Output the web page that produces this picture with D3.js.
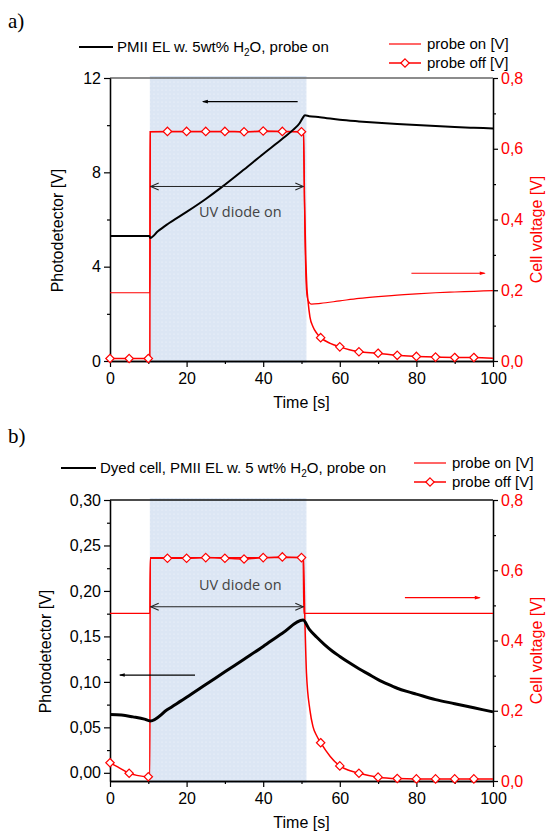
<!DOCTYPE html>
<html>
<head>
<meta charset="utf-8">
<script src="https://cdn.jsdelivr.net/npm/d3@7"></script>
<style>
body { margin: 0; background: #fff; }
</style>
</head>
<body>
<div id="viz"></div>
<script>
var svg_width = 547;
var svg_height = 832;

// shared axis ticks
var timeTicks = [0, 20, 40, 60, 80, 100];
var timeMinor = [10, 30, 50, 70, 90];
var cellTicks = [0, 0.2, 0.4, 0.6, 0.8];
var cellMinor = [0.1, 0.3, 0.5, 0.7];
var uvOn = [10.4, 51.3];   // shaded region, seconds

// ---- panel a) ----
var aPhotoTicks = [0, 4, 8, 12];
var aPhotoMinor = [2, 6, 10];
var aPhotoTime = [0, 10.3, 10.5, 12.5, 15, 20, 25, 29, 35, 40, 45, 47.8, 49.5, 50.3, 50.9, 52, 54.8, 60, 65, 70, 75, 80, 85, 90, 95, 100];
var aPhotoVal  = [5.3, 5.3, 5.22, 5.5, 5.8, 6.32, 6.87, 7.35, 8.12, 8.78, 9.42, 9.8, 10.08, 10.3, 10.42, 10.38, 10.34, 10.23, 10.16, 10.1, 10.05, 10.01, 9.96, 9.92, 9.89, 9.86];
var aOnTime = [0, 10.4, 10.5, 50, 50.5, 50.9, 51.3, 51.7, 52.6, 55, 60, 65, 70, 75, 80, 85, 90, 95, 100];
var aOnVal  = [0.193, 0.193, 0.648, 0.648, 0.645, 0.35, 0.2, 0.172, 0.161, 0.163, 0.17, 0.177, 0.182, 0.186, 0.19, 0.193, 0.195, 0.197, 0.199];
var aOffTime = [0, 5, 10, 10.4, 10.5, 15, 20, 25, 30, 35, 40, 45, 50, 50.5, 50.8, 51.1, 51.4, 51.7, 52.2, 53, 54, 55, 57.5, 60, 62.5, 65, 70, 75, 80, 85, 90, 95, 100];
var aOffVal  = [0.007, 0.007, 0.007, 0.007, 0.648, 0.649, 0.649, 0.649, 0.649, 0.648, 0.65, 0.649, 0.648, 0.645, 0.45, 0.3, 0.21, 0.17, 0.125, 0.097, 0.078, 0.066, 0.05, 0.04, 0.032, 0.026, 0.022, 0.016, 0.013, 0.011, 0.01, 0.01, 0.008];

// ---- panel b) ----
var bPhotoTicks = [0, 0.05, 0.10, 0.15, 0.20, 0.25, 0.30];
var bPhotoMinor = [0.025, 0.075, 0.125, 0.175, 0.225, 0.275];
var bPhotoTime = [0, 3, 6, 9, 10.5, 15, 20, 25, 30, 35, 40, 45, 50.4, 52, 54, 56, 58, 60, 62.5, 65, 67.5, 70, 72.5, 75, 77.5, 80, 85, 90, 95, 100];
var bPhotoVal  = [0.064, 0.0635, 0.0615, 0.059, 0.057, 0.0695, 0.083, 0.097, 0.111, 0.125, 0.139, 0.1535, 0.168, 0.158, 0.149, 0.141, 0.134, 0.128, 0.121, 0.1145, 0.1085, 0.1025, 0.0975, 0.093, 0.0895, 0.0865, 0.0805, 0.076, 0.0715, 0.067];
var bOnTime = [0, 10.4, 10.5, 50.4, 50.6, 100];
var bOnVal  = [0.477, 0.477, 0.636, 0.636, 0.477, 0.477];
var bOffTime = [0, 2, 5, 7, 10, 10.4, 10.5, 15, 20, 25, 30, 35, 40, 45, 50, 50.5, 50.9, 51.3, 52.2, 53, 54, 55, 57.5, 60, 62.5, 65, 70, 75, 80, 85, 90, 95, 100];
var bOffVal  = [0.052, 0.04, 0.022, 0.016, 0.012, 0.012, 0.634, 0.634, 0.634, 0.636, 0.634, 0.632, 0.636, 0.638, 0.636, 0.634, 0.449, 0.307, 0.202, 0.155, 0.128, 0.109, 0.07, 0.043, 0.03, 0.022, 0.011, 0.007, 0.006, 0.006, 0.006, 0.006, 0.006];

var FONT = "'Liberation Sans', Arial, sans-serif";
var RED = "#ff0000";

var svg = d3.select('#viz')
  .append('svg')
  .attr('width', svg_width)
  .attr('height', svg_height)
  .style('background', '#fff');

// dotted light blue fill for the UV region
var defs = svg.append('defs');
var pat = defs.append('pattern')
  .attr('id', 'uvfill')
  .attr('width', 4).attr('height', 4)
  .attr('patternUnits', 'userSpaceOnUse');
pat.append('rect').attr('width', 4).attr('height', 4).attr('fill', '#dce6f4');
pat.append('circle').attr('cx', 2).attr('cy', 2).attr('r', 0.6).attr('fill', '#f4f7fc');

function headMarker(id, color, open) {
  var m = defs.append('marker')
    .attr('id', id)
    .attr('viewBox', '0 -5 10 10')
    .attr('refX', open ? 9 : 8)
    .attr('refY', 0)
    .attr('markerUnits', 'userSpaceOnUse')
    .attr('markerWidth', open ? 9 : 10)
    .attr('markerHeight', open ? 9 : 6)
    .attr('orient', 'auto-start-reverse');
  if (open) {
    m.append('path').attr('d', 'M0,-4L9,0L0,4').attr('fill', 'none')
      .attr('stroke', color).attr('stroke-width', 1.2);
  } else {
    m.append('path').attr('d', 'M0,-3L10,0L0,3Z').attr('fill', color);
  }
}
headMarker('headBlack', '#000', false);
headMarker('headRed', RED, false);
headMarker('headOpen', '#222', true);

function zip(t, v) {
  return t.map(function(d, i) { return [d, v[i]]; });
}

function drawPanel(p) {
  var left = 110, right = 493;
  var g = svg.append('g');
  var x = d3.scaleLinear().domain([0, 100]).range([left, right]);
  var yL = d3.scaleLinear().domain(p.leftDomain).range([p.bottom, p.top]);
  var yR = d3.scaleLinear().domain([0, 0.8]).range([p.bottom, p.top]);

  // UV shading
  g.append('rect')
    .attr('x', x(uvOn[0]))
    .attr('y', p.top - 2)
    .attr('width', x(uvOn[1]) - x(uvOn[0]))
    .attr('height', p.bottom - p.top + 4)
    .attr('fill', 'url(#uvfill)');

  // top frame
  g.append('line')
    .attr('x1', left).attr('x2', right)
    .attr('y1', p.top).attr('y2', p.top)
    .attr('stroke', p.frameColor).attr('stroke-width', 1.5);

  // axes
  function styleAxis(sel, color) {
    sel.selectAll('path').attr('stroke', '#000').attr('stroke-width', 1.3);
    sel.selectAll('line').attr('stroke', '#000').attr('stroke-width', 1.2);
    sel.selectAll('text').attr('font-family', FONT).attr('font-size', '16px').attr('fill', color);
  }
  var comma = function(f) { return function(d) { return d3.format(f)(d).replace('.', ','); }; };

  g.append('g').attr('transform', 'translate(' + left + ',0)')
    .call(d3.axisLeft(yL).tickValues(p.minor).tickSize(3).tickFormat('').tickSizeOuter(0))
    .call(styleAxis, '#000');
  g.append('g').attr('transform', 'translate(' + left + ',0)')
    .call(d3.axisLeft(yL).tickValues(p.ticks).tickSize(6).tickPadding(3).tickSizeOuter(0).tickFormat(p.fmt))
    .call(styleAxis, '#000');

  g.append('g').attr('transform', 'translate(0,' + p.bottom + ')')
    .call(d3.axisBottom(x).tickValues(timeMinor).tickSize(3).tickFormat('').tickSizeOuter(0))
    .call(styleAxis, '#000');
  g.append('g').attr('transform', 'translate(0,' + p.bottom + ')')
    .call(d3.axisBottom(x).tickValues(timeTicks).tickSize(6).tickPadding(6).tickSizeOuter(0))
    .call(styleAxis, '#000');

  g.append('g').attr('transform', 'translate(' + right + ',0)')
    .call(d3.axisRight(yR).tickValues(cellMinor).tickSize(3).tickFormat('').tickSizeOuter(0))
    .call(styleAxis, RED);
  g.append('g').attr('transform', 'translate(' + right + ',0)')
    .call(d3.axisRight(yR).tickValues(cellTicks).tickSize(5).tickPadding(3).tickSizeOuter(0).tickFormat(comma('.1f')))
    .call(styleAxis, RED);

  // axis titles
  g.append('text')
    .attr('transform', 'translate(' + p.titleX + ',' + ((p.top + p.bottom) / 2 + 11) + ') rotate(-90)')
    .attr('text-anchor', 'middle')
    .attr('font-family', FONT).attr('font-size', '16px')
    .text('Photodetector [V]');
  g.append('text')
    .attr('transform', 'translate(542,' + ((p.top + p.bottom) / 2 + 10) + ') rotate(-90)')
    .attr('text-anchor', 'middle')
    .attr('font-family', FONT).attr('font-size', '16px').attr('fill', RED)
    .text('Cell voltage [V]');
  g.append('text')
    .attr('x', (left + right) / 2).attr('y', p.bottom + 47)
    .attr('text-anchor', 'middle')
    .attr('font-family', FONT).attr('font-size', '16px')
    .text('Time [s]');

  // data lines
  var lineL = d3.line().curve(d3.curveMonotoneX).x(function(d) { return x(d[0]); }).y(function(d) { return yL(d[1]); });
  var lineR = d3.line().curve(d3.curveMonotoneX).x(function(d) { return x(d[0]); }).y(function(d) { return yR(d[1]); });

  g.append('path').datum(zip(p.onT, p.onV))
    .attr('d', lineR).attr('fill', 'none').attr('stroke', RED).attr('stroke-width', 1.2);
  var off = zip(p.offT, p.offV);
  g.append('path').datum(off)
    .attr('d', lineR).attr('fill', 'none').attr('stroke', RED).attr('stroke-width', 1.5);
  g.selectAll('path.mk')
    .data(off.filter(function(d) { return d[0] % 5 === 0 && d[0] < 100; }))
    .enter()
    .append('path')
    .attr('class', 'mk')
    .attr('d', 'M0,-4.2L4.2,0L0,4.2L-4.2,0Z')
    .attr('transform', function(d) { return 'translate(' + x(d[0]) + ',' + yR(d[1]) + ')'; })
    .attr('fill', '#fff').attr('stroke', RED).attr('stroke-width', 1.2);
  g.append('path').datum(zip(p.photoT, p.photoV))
    .attr('d', lineL).attr('fill', 'none').attr('stroke', '#000')
    .attr('stroke-width', p.photoWidth).attr('stroke-linejoin', 'round');

  // annotations
  g.append('line')
    .attr('x1', x(10.6)).attr('x2', x(50.5))
    .attr('y1', yL(p.uvY)).attr('y2', yL(p.uvY))
    .attr('stroke', '#222').attr('stroke-width', 1)
    .attr('marker-start', 'url(#headOpen)').attr('marker-end', 'url(#headOpen)');
  g.append('text')
    .attr('x', x(34)).attr('y', yL(p.uvY) + p.uvTextDy)
    .attr('text-anchor', 'middle')
    .attr('font-family', "'Open Sans', sans-serif").attr('font-size', '14.5px').attr('fill', '#444')
    .text('UV diode on');

  g.append('line')
    .attr('x1', x(p.blackArrow[0])).attr('x2', x(p.blackArrow[1]))
    .attr('y1', yL(p.blackArrow[2])).attr('y2', yL(p.blackArrow[2]))
    .attr('stroke', '#000').attr('stroke-width', 1.2)
    .attr('marker-end', 'url(#headBlack)');
  g.append('line')
    .attr('x1', x(p.redArrow[0])).attr('x2', x(p.redArrow[1]))
    .attr('y1', yR(p.redArrow[2])).attr('y2', yR(p.redArrow[2]))
    .attr('stroke', RED).attr('stroke-width', 1.2)
    .attr('marker-end', 'url(#headRed)');

  // legend
  var lg = p.legend;
  g.append('line').attr('x1', lg.bx[0]).attr('x2', lg.bx[1]).attr('y1', lg.by).attr('y2', lg.by)
    .attr('stroke', '#000').attr('stroke-width', 2);
  var t = g.append('text').attr('x', lg.bx[1] + 4).attr('y', lg.by + 5)
    .attr('font-family', FONT).attr('font-size', '15px');
  t.append('tspan').text(lg.label + ' H');
  t.append('tspan').attr('dy', 4).attr('font-size', '10px').text('2');
  t.append('tspan').attr('dy', -4).text('O, probe on');

  g.append('line').attr('x1', lg.rx[0]).attr('x2', lg.rx[1]).attr('y1', lg.ry).attr('y2', lg.ry)
    .attr('stroke', RED).attr('stroke-width', 1.2);
  g.append('text').attr('x', lg.rx[1] + 6).attr('y', lg.ry + 5)
    .attr('font-family', FONT).attr('font-size', '15px').text('probe on [V]');
  g.append('line').attr('x1', lg.rx[0]).attr('x2', lg.rx[1]).attr('y1', lg.ry + 19).attr('y2', lg.ry + 19)
    .attr('stroke', RED).attr('stroke-width', 1.5);
  g.append('path').attr('d', 'M0,-4.2L4.2,0L0,4.2L-4.2,0Z')
    .attr('transform', 'translate(' + (lg.rx[0] + lg.rx[1]) / 2 + ',' + (lg.ry + 19) + ')')
    .attr('fill', '#fff').attr('stroke', RED).attr('stroke-width', 1.2);
  g.append('text').attr('x', lg.rx[1] + 6).attr('y', lg.ry + 24)
    .attr('font-family', FONT).attr('font-size', '15px').text('probe off [V]');

  // panel letter
  svg.append('text').attr('x', 8).attr('y', p.letterY)
    .attr('font-family', "'Liberation Serif', 'Times New Roman', serif").attr('font-size', '21px')
    .text(p.letter);
}

drawPanel({
  letter: 'a)', letterY: 28,
  top: 78, bottom: 361, frameColor: '#666', titleX: 63,
  leftDomain: [0, 12], ticks: aPhotoTicks, minor: aPhotoMinor, fmt: function(d) { return d; },
  photoT: aPhotoTime, photoV: aPhotoVal, photoWidth: 2,
  onT: aOnTime, onV: aOnVal, offT: aOffTime, offV: aOffVal,
  uvY: 7.4, uvTextDy: 31,
  blackArrow: [49, 24.3, 11.0], redArrow: [78.7, 97.8, 0.248],
  legend: { bx: [79, 113], by: 47, rx: [389, 421], ry: 44, label: 'PMII EL w. 5wt%' }
});

drawPanel({
  letter: 'b)', letterY: 443,
  top: 500, bottom: 781, frameColor: '#111', titleX: 51,
  leftDomain: [-0.009, 0.30], ticks: bPhotoTicks, minor: bPhotoMinor,
  fmt: function(d) { return d3.format('.2f')(d).replace('.', ','); },
  photoT: bPhotoTime, photoV: bPhotoVal, photoWidth: 3,
  onT: bOnTime, onV: bOnVal, offT: bOffTime, offV: bOffVal,
  uvY: 0.1826, uvTextDy: -17,
  blackArrow: [22.2, 2.6, 0.1075], redArrow: [77, 96.5, 0.522],
  legend: { bx: [61, 96], by: 468, rx: [414, 446], ry: 463, label: 'Dyed cell, PMII EL w. 5 wt%' }
});
</script>
</body>
</html>
